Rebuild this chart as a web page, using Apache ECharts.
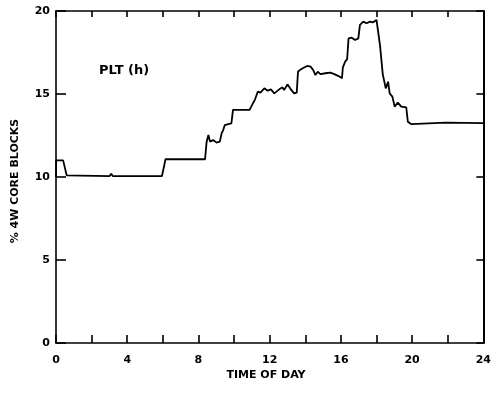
<!DOCTYPE html>
<html>
<head>
<meta charset="utf-8">
<script src="https://cdn.jsdelivr.net/npm/echarts@6/dist/echarts.min.js"></script>
<style>html,body{margin:0;padding:0;background:#fff}#c{width:494px;height:394px}</style>
</head>
<body>
<div id="c"></div>
<script>
const hours = [0, 0.01, 0.4, 0.6, 0.7, 3.0, 3.1, 3.2, 5.95, 6.15, 8.37, 8.46, 8.56, 8.65, 8.83, 9.02, 9.2, 9.3, 9.39, 9.48, 9.67, 9.85, 9.94, 10.87, 11.06, 11.18, 11.33, 11.48, 11.70, 11.89, 12.07, 12.26, 12.54, 12.72, 12.81, 13.0, 13.19, 13.37, 13.52, 13.59, 13.74, 13.96, 14.11, 14.30, 14.44, 14.57, 14.70, 14.85, 15.13, 15.41, 15.63, 15.87, 16.06, 16.11, 16.24, 16.35, 16.43, 16.61, 16.8, 16.98, 17.07, 17.26, 17.44, 17.63, 17.81, 18.0, 18.09, 18.2, 18.35, 18.52, 18.65, 18.74, 18.89, 19.02, 19.2, 19.39, 19.67, 19.76, 19.94, 21.9, 24];
const coreBlocks = [10.0, 11.0, 11.0, 10.1, 10.05, 10.05, 10.2, 10.05, 10.05, 11.07, 11.07, 12.13, 12.53, 12.13, 12.23, 12.07, 12.13, 12.63, 12.83, 13.13, 13.19, 13.23, 14.04, 14.04, 14.44, 14.68, 15.14, 15.08, 15.34, 15.2, 15.28, 15.04, 15.28, 15.4, 15.24, 15.58, 15.28, 15.04, 15.08, 16.34, 16.48, 16.61, 16.69, 16.65, 16.45, 16.14, 16.34, 16.2, 16.25, 16.29, 16.2, 16.08, 15.95, 16.6, 16.95, 17.1, 18.35, 18.39, 18.25, 18.35, 19.16, 19.36, 19.26, 19.36, 19.32, 19.46, 19.46, 17.9, 16.2, 15.34, 15.74, 15.04, 14.84, 14.24, 14.48, 14.24, 14.2, 13.33, 13.19, 13.27, 13.25];
const xLabels = [0, 4, 8, 12, 16, 20, 24];
const yLabels = [0, 5, 10, 15, 20];

const data = hours.map((h, i) => [h, coreBlocks[i]]);
const font = 'DejaVu Sans';
const lineStyle = { color: '#000', width: 1.6 };

const chart = echarts.init(document.getElementById('c'));
chart.setOption({
  animation: false,
  backgroundColor: '#fff',
  grid: { left: 56, right: 5, top: 11, bottom: 51 },
  xAxis: [{
    type: 'value', min: 0, max: 24, interval: 2, position: 'bottom',
    axisLine: { show: true, onZero: false, lineStyle: lineStyle },
    axisTick: { show: true, inside: true, length: 8, lineStyle: lineStyle },
    splitLine: { show: false },
    axisLabel: {
      margin: 12, color: '#000', fontFamily: font, fontWeight: 'bold', fontSize: 11,
      formatter: v => xLabels.indexOf(v) >= 0 ? String(v) : ''
    }
  }, {
    type: 'value', min: 0, max: 24, interval: 2, position: 'top',
    axisLine: { show: true, onZero: false, lineStyle: lineStyle },
    axisTick: { show: true, inside: true, length: 6, lineStyle: lineStyle },
    splitLine: { show: false },
    axisLabel: { show: false }
  }],
  yAxis: [{
    type: 'value', min: 0, max: 20, interval: 5, position: 'left',
    axisLine: { show: true, onZero: false, lineStyle: lineStyle },
    axisTick: { show: true, inside: true, length: 10, lineStyle: lineStyle },
    splitLine: { show: false },
    axisLabel: {
      margin: 6, color: '#000', fontFamily: font, fontWeight: 'bold', fontSize: 11,
      formatter: v => yLabels.indexOf(v) >= 0 ? String(v) : ''
    }
  }, {
    type: 'value', min: 0, max: 20, interval: 5, position: 'right',
    axisLine: { show: true, onZero: false, lineStyle: { color: '#000', width: 2 } },
    axisTick: { show: true, inside: true, length: 7, lineStyle: lineStyle },
    splitLine: { show: false },
    axisLabel: { show: false }
  }],
  graphic: [
    { type: 'text', left: 99, top: 64, style: { text: 'PLT (h)', fill: '#000', font: 'bold 13px "DejaVu Sans"' } },
    { type: 'text', x: 266, y: 375, style: { text: 'TIME OF DAY', fill: '#000', font: 'bold 11px "DejaVu Sans"', align: 'center', verticalAlign: 'middle' } },
    { type: 'text', x: 15, y: 181, rotation: Math.PI / 2, style: { text: '% 4W CORE BLOCKS', fill: '#000', font: 'bold 11px "DejaVu Sans"', align: 'center', verticalAlign: 'middle' } }
  ],
  series: [{
    type: 'line', data: data, showSymbol: false, symbol: 'none',
    lineStyle: { color: '#000', width: 1.8 }
  }]
});
</script>
</body>
</html>
